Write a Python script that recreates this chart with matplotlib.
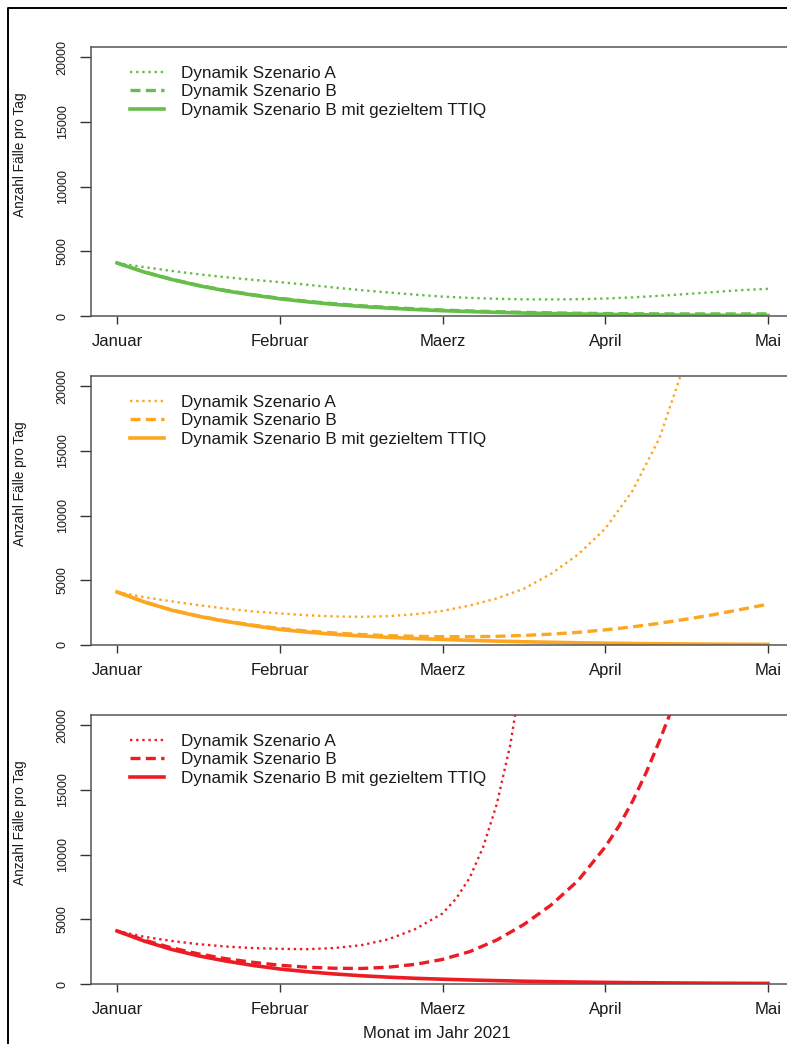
import numpy as np
import matplotlib.pyplot as plt
from matplotlib.lines import Line2D

plt.rcParams["font.family"] = ["Liberation Sans", "DejaVu Sans"]

# x axis: days since 1 January 2021
month_days = [0, 30, 60, 90, 120]
month_names = ["Januar", "Februar", "Maerz", "April", "Mai"]
day5 = list(range(0, 125, 5))

labels = ["Dynamik Szenario A", "Dynamik Szenario B",
          "Dynamik Szenario B mit gezieltem TTIQ"]

# panel 1 (green)
green_a = [4100, 3780, 3490, 3230, 3000, 2800, 2620, 2420, 2200, 2000, 1820, 1650, 1500,
           1400, 1330, 1290, 1280, 1300, 1350, 1440, 1560, 1700, 1850, 2000, 2100]
green_b = [4100, 3410, 2850, 2370, 1980, 1650, 1370, 1140, 950, 790, 660, 550, 460,
           390, 330, 280, 240, 210, 190, 175, 165, 160, 158, 160, 165]
green_c = [4100, 3400, 2830, 2350, 1950, 1620, 1330, 1100, 900, 740, 610, 500, 410,
           340, 280, 230, 190, 155, 125, 105, 85, 70, 58, 48, 40]

# panel 2 (orange)
orange_a_days = list(range(0, 110, 5))
orange_a = [4100, 3700, 3380, 3080, 2820, 2600, 2440, 2300, 2210, 2180, 2230, 2380, 2640,
            3050, 3600, 4350, 5500, 7000, 9000, 11900, 16000, 22200]
orange_b = [4100, 3340, 2720, 2240, 1860, 1540, 1280, 1080, 930, 810, 720, 670, 640,
            640, 670, 740, 840, 980, 1170, 1400, 1680, 2000, 2350, 2750, 3150]
orange_c = [4100, 3330, 2700, 2220, 1830, 1500, 1200, 1000, 830, 700, 590, 500, 430,
            360, 300, 250, 210, 170, 140, 115, 95, 80, 65, 55, 45]

# panel 3 (red)
red_a_days = [0, 5, 10, 15, 20, 25, 30, 35, 40, 45, 50, 55, 60, 62.5, 65, 67.5, 70, 72.5, 75]
red_a = [4100, 3650, 3330, 3080, 2900, 2780, 2720, 2690, 2780, 3000, 3450, 4250, 5450,
         6600, 8200, 10600, 13900, 18500, 25000]
red_b_days = [0, 5, 10, 15, 20, 25, 30, 35, 40, 45, 50, 55, 60, 65, 70, 75, 80, 85, 90,
              92.5, 95, 97.5, 100, 102.5, 105]
red_b = [4100, 3400, 2800, 2330, 1960, 1680, 1450, 1300, 1220, 1200, 1300, 1520, 1900,
         2500, 3400, 4600, 6100, 8000, 10600, 12200, 14100, 16300, 18800, 21500, 24500]
red_c = [4100, 3320, 2680, 2180, 1780, 1440, 1160, 950, 780, 640, 530, 440, 370,
         310, 260, 215, 180, 150, 125, 105, 88, 74, 62, 52, 44]

panels = [
    ("#66bd4a", (day5, green_a), (day5, green_b), (day5, green_c)),
    ("#fda61f", (orange_a_days, orange_a), (day5, orange_b), (day5, orange_c)),
    ("#ed1c24", (red_a_days, red_a), (red_b_days, red_b), (day5, red_c)),
]

W, H = 787, 1044
fig = plt.figure(figsize=(W / 100, H / 100), dpi=100)

tops = [47, 376, 715]
ax_h = 269
left, right = 91, 794

for (color, sa, sb, sc), top in zip(panels, tops):
    ax = fig.add_axes([left / W, 1 - (top + ax_h) / H, (right - left) / W, ax_h / H])
    la, = ax.plot(sa[0], sa[1], color=color, lw=1.7, ls=(0, (1, 1.6)))
    lb, = ax.plot(sb[0], sb[1], color=color, lw=2.4, ls=(0, (3, 1.6)))
    lc, = ax.plot(sc[0], sc[1], color=color, lw=2.6)

    ax.set_xlim(-4.8, 124.8)
    ax.set_ylim(0, 20800)
    ax.set_xticks(month_days)
    ax.set_xticklabels(month_names)
    ax.set_yticks([0, 5000, 10000, 15000, 20000])
    ax.tick_params(axis="x", length=6, width=1, color="#333333", pad=7,
                   labelsize=12, labelcolor="#1a1a1a")
    ax.tick_params(axis="y", length=8, width=1, color="#333333", pad=8,
                   labelsize=9, labelcolor="#1a1a1a", labelrotation=90)
    for t in ax.get_yticklabels():
        t.set_va("center")
    for s in ax.spines.values():
        s.set_color("#555555")
        s.set_linewidth(1.1)

    ax.legend([la, lb, lc], labels, loc="upper left", bbox_to_anchor=(0.0555, 0.93),
              frameon=False, fontsize=12.3, handlelength=2.0, handletextpad=1.0,
              labelspacing=0.2, borderpad=0, borderaxespad=0, labelcolor="#1a1a1a")

    fig.text(20 / W, 1 - (top + 108) / H, "Anzahl Fälle pro Tag", rotation=90,
             ha="center", va="center", fontsize=9.8, color="#1a1a1a")

fig.text(436.5 / W, 1 - 1034 / H, "Monat im Jahr 2021", ha="center", va="center",
         fontsize=12, color="#1a1a1a")

# outer frame line (top and left)
fig.add_artist(Line2D([8 / W, 8 / W, 1], [0, 1 - 8 / H, 1 - 8 / H],
                      transform=fig.transFigure, color="black", lw=1.4))

fig.savefig("out.png", dpi=100)
